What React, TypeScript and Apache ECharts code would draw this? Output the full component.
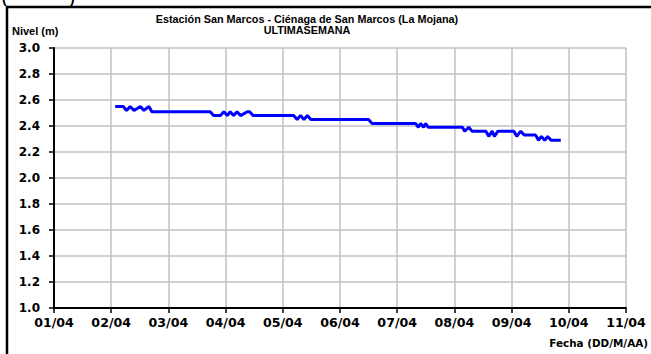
import React, { useEffect, useRef } from "react";
import * as echarts from "echarts";

const titleLines = ["Estación San Marcos - Ciénaga de San Marcos (La Mojana)", "ULTIMASEMANA"];
const yAxisTitle = "Nivel (m)";
const xAxisTitle = "Fecha (DD/M/AA)";
const xTickLabels = ["01/04", "02/04", "03/04", "04/04", "05/04", "06/04", "07/04", "08/04", "09/04", "10/04", "11/04"];

// time in days (1 = 01/04 00:00), level in metres
const times = [
  2.07, 2.21, 2.27, 2.33, 2.4, 2.51, 2.57, 2.66, 2.71,
  3.73, 3.79, 3.91, 3.97, 4.03, 4.08, 4.14, 4.2, 4.26, 4.38, 4.42, 4.48,
  5.19, 5.25, 5.31, 5.37, 5.43, 5.49,
  6.5, 6.56,
  7.32, 7.37, 7.41, 7.46, 7.5, 7.54,
  8.14, 8.18, 8.25, 8.31,
  8.55, 8.6, 8.66, 8.7, 8.76,
  9.04, 9.09, 9.16, 9.22,
  9.42, 9.47, 9.52, 9.58, 9.63, 9.69, 9.86,
];
const levels = [
  2.55, 2.55, 2.52, 2.55, 2.52, 2.55, 2.52, 2.55, 2.51,
  2.51, 2.48, 2.48, 2.51, 2.48, 2.51, 2.48, 2.51, 2.48, 2.51, 2.51, 2.48,
  2.48, 2.45, 2.48, 2.45, 2.48, 2.45,
  2.45, 2.42,
  2.42, 2.39, 2.42, 2.39, 2.42, 2.39,
  2.39, 2.36, 2.39, 2.36,
  2.36, 2.32, 2.36, 2.32, 2.36,
  2.36, 2.32, 2.36, 2.33,
  2.33, 2.29, 2.32, 2.29, 2.32, 2.29, 2.29,
];

const BOLD_AXIS = { fontFamily: "DejaVu Sans", fontWeight: "bold" as const, color: "#000" };

export default function App() {
  const ref = useRef<HTMLDivElement>(null);
  useEffect(() => {
    if (!ref.current) return;
    const chart = echarts.init(ref.current, null, { renderer: "svg" });
    const data = times.map((t, i) => [t, levels[i]]);
    chart.setOption({
      animation: false,
      backgroundColor: "#fff",
      grid: { left: 54, right: 25, top: 48, bottom: 46, containLabel: false },
      xAxis: {
        type: "value",
        min: 1,
        max: 11,
        interval: 1,
        axisLine: { show: true, onZero: false, lineStyle: { color: "#000", width: 2 } },
        axisTick: { show: true, inside: false, length: 5, lineStyle: { color: "#000", width: 1.5 } },
        axisLabel: { ...BOLD_AXIS, fontSize: 12.6, margin: 8, formatter: (v: number) => xTickLabels[Math.round(v - 1)] ?? "" },
        splitLine: { show: true, lineStyle: { color: "#c0c0c0", width: 1.5 } },
      },
      yAxis: {
        type: "value",
        min: 1,
        max: 3,
        interval: 0.2,
        axisLine: { show: true, onZero: false, lineStyle: { color: "#000", width: 2 } },
        axisTick: { show: true, inside: false, length: 5, lineStyle: { color: "#000", width: 1.5 } },
        axisLabel: { ...BOLD_AXIS, fontSize: 12, margin: 14, formatter: (v: number) => v.toFixed(1) },
        splitLine: { show: true, lineStyle: { color: "#c0c0c0", width: 1.5 } },
      },
      series: [
        {
          type: "line",
          data,
          showSymbol: false,
          symbol: "none",
          lineStyle: { color: "#0000ff", width: 3 },
          z: 5,
        },
      ],
      graphic: [
        { type: "polyline", shape: { points: [[7, 360], [7, 7], [660, 7]] }, style: { stroke: "#000", lineWidth: 2.5, fill: "none" }, silent: true },
        { type: "text", x: 2, y: -9, style: { text: "(", font: "bold 14px 'Liberation Sans', Arial", fill: "#000" } },
        { type: "text", x: 70, y: -9, style: { text: ")", font: "bold 14px 'Liberation Sans', Arial", fill: "#000" } },
        { type: "text", x: 307, y: 19, style: { text: titleLines[0], font: "bold 10.8px 'Liberation Sans', Arial", fill: "#000", align: "center", verticalAlign: "middle" } },
        { type: "text", x: 307, y: 30, style: { text: titleLines[1], font: "bold 10.8px 'Liberation Sans', Arial", fill: "#000", align: "center", verticalAlign: "middle" } },
        { type: "text", x: 12, y: 31, style: { text: yAxisTitle, font: "bold 11px 'Liberation Sans', Arial", fill: "#000", align: "left", verticalAlign: "middle" } },
        { type: "text", x: 648, y: 343, style: { text: xAxisTitle, font: "bold 10.4px 'DejaVu Sans'", fill: "#000", align: "right", verticalAlign: "middle" } },
      ],
    });
    return () => chart.dispose();
  }, []);
  return <div ref={ref} style={{ width: 651, height: 354, position: "absolute", left: 0, top: 0 }} />;
}
